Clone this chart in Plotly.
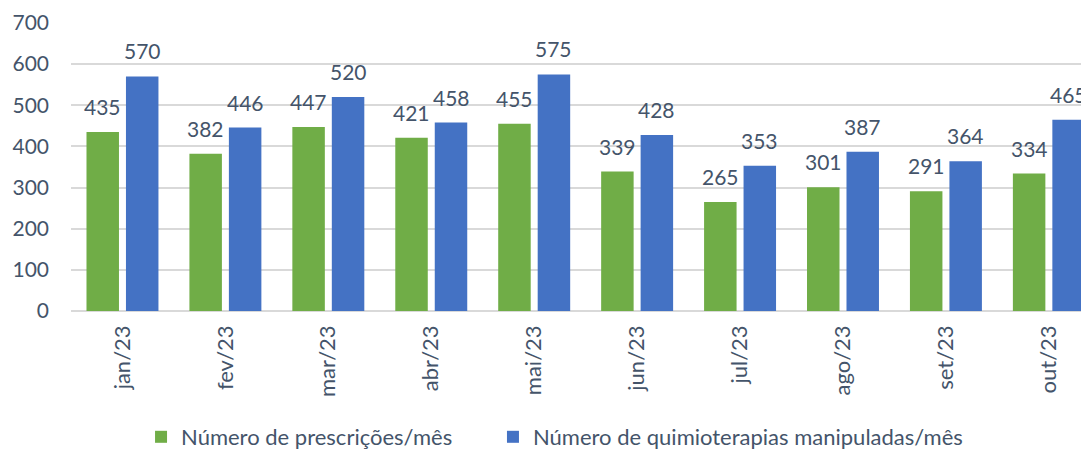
import plotly.graph_objects as go

meses = ["jan/23", "fev/23", "mar/23", "abr/23", "mai/23", "jun/23", "jul/23", "ago/23", "set/23", "out/23"]
prescricoes = [435, 382, 447, 421, 455, 339, 265, 301, 291, 334]
quimioterapias = [570, 446, 520, 458, 575, 428, 353, 387, 364, 465]
nome_prescricoes = "Número de prescrições/mês"
nome_quimio = "Número de quimioterapias manipuladas/mês"

FONT = "Lato"
TXT = "#44546A"
VERDE = "#70AD47"
AZUL = "#4472C4"

fig = go.Figure()
fig.add_trace(go.Bar(
    x=meses, y=prescricoes, name=nome_prescricoes,
    marker=dict(color=VERDE, line=dict(width=0)), legend="legend",
))
fig.add_trace(go.Bar(
    x=meses, y=quimioterapias, name=nome_quimio,
    marker=dict(color=AZUL, line=dict(width=0)), legend="legend2",
))

# data labels
for serie, shift in ((prescricoes, -19.75), (quimioterapias, 19.75)):
    for m, v in zip(meses, serie):
        fig.add_annotation(x=m, y=v, text=str(v), showarrow=False, xref="x", yref="y",
                           yanchor="bottom", xanchor="center", xshift=shift, yshift=11,
                           font=dict(family=FONT, size=21, color=TXT))

leg_font = dict(family=FONT, size=22, color=TXT)
fig.update_layout(
    width=1081, height=450,
    margin=dict(l=63, r=0, t=15, b=146),
    paper_bgcolor="white", plot_bgcolor="white",
    barmode="group", bargap=0.233, bargroupgap=0.177,
    font=dict(family=FONT, size=21, color=TXT),
    showlegend=True,
    legend=dict(orientation="h", x=0.0688, xanchor="left", y=-0.439, yanchor="middle",
                font=leg_font, itemwidth=30, bgcolor="rgba(0,0,0,0)"),
    legend2=dict(orientation="h", x=0.4145, xanchor="left", y=-0.439, yanchor="middle",
                 font=leg_font, itemwidth=30, bgcolor="rgba(0,0,0,0)"),
)
fig.update_xaxes(
    range=[-0.5, 9.39], tickangle=-90, showgrid=False, showline=False, automargin=False,
    tickfont=dict(family=FONT, size=22, color=TXT), ticks="", ticklabelstandoff=9,
)
fig.update_yaxes(
    range=[0, 700], dtick=100, showgrid=True, gridcolor="#D9D9D9", gridwidth=1.5,
    zeroline=True, zerolinecolor="#D9D9D9", zerolinewidth=1.5, automargin=False,
    tickfont=dict(family=FONT, size=21, color=TXT), ticklabelstandoff=21,
)

fig.write_html("out.html")
